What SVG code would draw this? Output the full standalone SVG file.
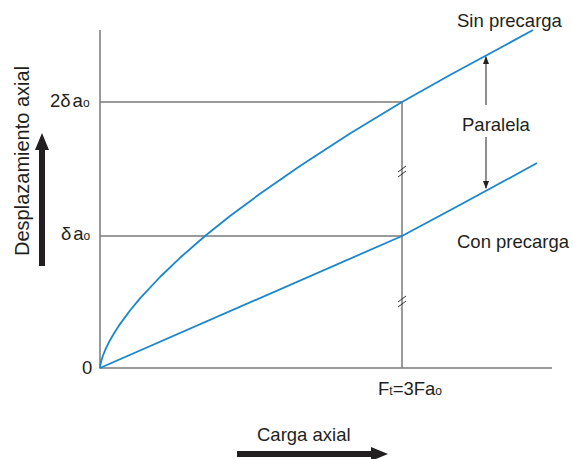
<svg xmlns="http://www.w3.org/2000/svg" width="573" height="459" viewBox="0 0 573 459">
<style>
text{font-family:"Liberation Sans",Arial,sans-serif;fill:#231f20;font-size:18.5px}
.ax{stroke:#7a7a7a;stroke-width:1.5;fill:none}
.cv{stroke:#1a87cc;stroke-width:1.8;fill:none;stroke-linejoin:round}
.tk{stroke:#333;stroke-width:1;fill:none}
.pa{stroke:#444;stroke-width:1.2;fill:none}
</style>
<defs>
<marker id="ah" viewBox="0 0 8 8" refX="7" refY="4" markerWidth="8" markerHeight="8" markerUnits="userSpaceOnUse" orient="auto">
<path d="M0,1 L8,4 L0,7 Z" fill="#222"/>
</marker>
</defs>
<g id="axes">
<path class="ax" d="M100,30 V368 H552"/>
<path class="ax" d="M100,102 H402 M100,236 H402 M402,102 V368"/>
</g>
<g id="connectors">
<path class="cv" d="M100,368 L100.3,365.3 L101,362 L102,358.5 L103,355.5 L106,348.2 L110,340.2 L115,331.7 L120,324.1 L130,310.5 L140,298.4 L160,277 L180,257.8 L205,236 L230,216 L260,193.8 L300,166 L350,133.4 L402,102 L450,75 L500,48 L533,30"/>
<path class="cv" d="M100,368 L402,236 Q470,200 537,163"/>
<path class="tk" d="M398,172 L406,166 M398,177 L406,171"/>
<path class="tk" d="M398,302 L406,296 M398,307 L406,301"/>
<path class="pa" d="M486,105 V57" marker-end="url(#ah)"/>
<path class="pa" d="M486,137 V188" marker-end="url(#ah)"/>
<path d="M39,266 V150 H35 L42,133 L49,150 H45 V266 Z" fill="#231f20"/>
<path d="M237,451 H371 V447 L388,454 L371,461 V457 H237 Z" fill="#231f20"/>
</g>
<g id="labels">
<text x="457" y="27">Sin precarga</text>
<text x="457" y="248">Con precarga</text>
<text x="462" y="131">Paralela</text>
<text x="50" y="107">2δ<tspan dx="2">a</tspan><tspan font-size="12">o</tspan></text>
<text x="61" y="240">δ<tspan dx="2">a</tspan><tspan font-size="12">o</tspan></text>
<text x="82" y="374">0</text>
<text x="378" y="395">F<tspan font-size="12">t</tspan>=3Fa<tspan font-size="12">o</tspan></text>
<text x="257" y="441">Carga axial</text>
<text transform="translate(29,256) rotate(-90)" style="font-size:20px">Desplazamiento axial</text>
</g>
</svg>
